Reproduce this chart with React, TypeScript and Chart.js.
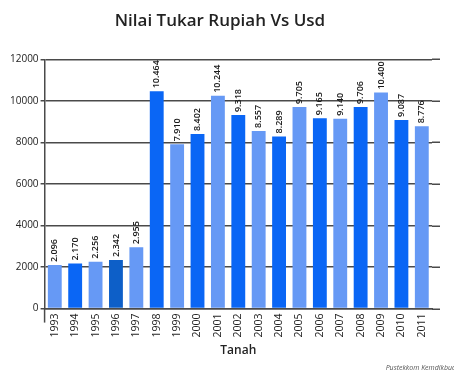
import React, { useEffect, useRef } from "react";
import { Chart, registerables } from "chart.js";

Chart.register(...registerables);

const years = [
  "1993", "1994", "1995", "1996", "1997", "1998", "1999", "2000", "2001", "2002",
  "2003", "2004", "2005", "2006", "2007", "2008", "2009", "2010", "2011",
];
const rates = [
  2096, 2170, 2256, 2342, 2955, 10464, 7910, 8402, 10244, 9318,
  8557, 8289, 9705, 9165, 9140, 9706, 10400, 9087, 8776,
];
const LIGHT = "#6699f5";
const DARK = "#0a66f5";
const DEEP = "#0d5fc8";
const barColors = years.map((y, i) => (y === "1996" ? DEEP : i % 2 === 0 ? LIGHT : DARK));

const FONT = "'Open Sans', 'Noto Sans', sans-serif";

// "10.464" style thousands grouping
const fmt = (v: number) => v.toString().replace(/\B(?=(\d{3})+(?!\d))/g, ".");

const decorations = {
  id: "decorations",
  beforeDatasetsDraw(chart: any) {
    const { ctx, chartArea, scales } = chart;
    ctx.save();
    ctx.strokeStyle = "#4a4a4a";
    ctx.lineWidth = 1.5;
    // grid lines run a little past the last bar
    scales.y.ticks.forEach((t: any) => {
      const y = Math.round(scales.y.getPixelForValue(t.value)) + 0.25;
      ctx.beginPath();
      ctx.moveTo(chartArea.right, y);
      ctx.lineTo(chartArea.right + 8, y);
      ctx.stroke();
    });
    // vertical axis dips below the baseline
    ctx.beginPath();
    ctx.moveTo(chartArea.left, chartArea.bottom);
    ctx.lineTo(chartArea.left, chartArea.bottom + 14);
    ctx.stroke();
    ctx.restore();
  },
  afterDatasetsDraw(chart: any) {
    const { ctx } = chart;
    const meta = chart.getDatasetMeta(0);
    ctx.save();
    ctx.fillStyle = "#1a1a1a";
    ctx.font = `600 9px ${FONT}`;
    ctx.textAlign = "left";
    ctx.textBaseline = "middle";
    meta.data.forEach((bar: any, i: number) => {
      ctx.save();
      ctx.translate(bar.x, bar.y - 3);
      ctx.rotate(-Math.PI / 2);
      ctx.fillText(fmt(rates[i]), 0, 0);
      ctx.restore();
    });
    // source credit
    ctx.fillStyle = "#555";
    ctx.font = `italic 7px ${FONT}`;
    ctx.textAlign = "right";
    ctx.textBaseline = "alphabetic";
    ctx.fillText("Pustekkom Kemdikbud", chart.width + 2, chart.height - 1);
    ctx.restore();
  },
};

export default function App() {
  const ref = useRef<HTMLCanvasElement>(null);

  useEffect(() => {
    if (!ref.current) return;
    const chart = new Chart(ref.current, {
      type: "bar",
      data: {
        labels: years,
        datasets: [
          {
            data: rates,
            backgroundColor: barColors,
            borderWidth: 0,
            categoryPercentage: 1,
            barPercentage: 0.68,
          },
        ],
      },
      options: {
        animation: false,
        responsive: false,
        layout: { padding: { left: 8, right: 22, top: 0, bottom: 13 } },
        plugins: {
          legend: { display: false },
          tooltip: { enabled: false },
          title: {
            display: true,
            text: "Nilai Tukar Rupiah Vs Usd",
            color: "#222",
            font: { family: FONT, size: 17, weight: "600" },
            padding: { top: 11, bottom: 28 },
          },
        },
        scales: {
          x: {
            grid: { display: false, drawTicks: false },
            border: { display: true, color: "#4a4a4a", width: 1.5 },
            ticks: {
              color: "#222",
              font: { family: FONT, size: 10.5 },
              minRotation: 90,
              maxRotation: 90,
              padding: 5,
              autoSkip: false,
            },
            title: {
              display: true,
              text: "Tanah",
              color: "#222",
              font: { family: FONT, size: 12, weight: "600" },
              padding: { top: 1, bottom: 0 },
            },
          },
          y: {
            min: 0,
            max: 12000,
            ticks: {
              stepSize: 2000,
              color: "#222",
              font: { family: FONT, size: 10 },
              padding: 2,
              callback: (v: any) => String(v),
            },
            grid: { color: "#4a4a4a", lineWidth: 1.5, tickLength: 4 },
            border: { display: true, color: "#4a4a4a", width: 1.5 },
          },
        },
      },
      plugins: [decorations],
    });
    return () => chart.destroy();
  }, []);

  return (
    <div style={{ position: "fixed", left: 0, top: 0, width: 454, height: 371, background: "#fff" }}>
      <canvas ref={ref} width={454} height={371} style={{ display: "block" }} />
    </div>
  );
}
